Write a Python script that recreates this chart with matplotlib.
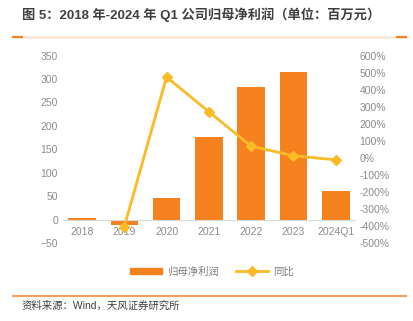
import matplotlib
matplotlib.use("Agg")
import matplotlib.pyplot as plt
from matplotlib.lines import Line2D

plt.rcParams['font.family'] = ['Liberation Sans', 'Noto Sans CJK SC']

years = ['2018', '2019', '2020', '2021', '2022', '2023', '2024Q1']
profit = [3, -11, 47, 177, 283, 315, 60]
yoy = [None, -405, 474, 270, 68, 12, -12]  # %

bar_color = '#F5821F'
line_color = '#FBBA26'
tick_color = '#8C8C8C'

fig = plt.figure(figsize=(4.14, 3.21), dpi=100)
ax = fig.add_axes([0.152, 0.243, 0.705, 0.584])
x = list(range(len(years)))
ax.bar(x, profit, width=0.65, color=bar_color, zorder=2)
ax.set_ylim(-50, 350)
ax.set_yticks(range(-50, 351, 50))
ax.set_xlim(-0.45, len(years) - 0.55)
ax.set_xticks(x)
ax.set_xticklabels(years)
for s in ['top', 'right', 'left']:
    ax.spines[s].set_visible(False)
ax.spines['bottom'].set_position(('data', 0))
ax.spines['bottom'].set_color('#D9D9D9')
ax.tick_params(axis='both', length=0, colors=tick_color, labelsize=7.5)
ax.tick_params(axis='x', pad=5)

ax2 = ax.twinx()
px = [i for i, v in zip(x, yoy) if v is not None]
py = [v / 100 for v in yoy if v is not None]
ax2.plot(px, py, color=line_color, lw=2, marker='D', ms=5, zorder=3)
ax2.set_ylim(-5, 6)
ax2.set_yticks(range(-5, 7))
ax2.set_yticklabels([f'{v * 100}%' for v in range(-5, 7)])
for s in ax2.spines.values():
    s.set_visible(False)
ax2.tick_params(axis='y', length=0, colors=tick_color, labelsize=7.5)

handles = [plt.Rectangle((0, 0), 1, 1, color=bar_color),
           Line2D([], [], color=line_color, lw=2, marker='D', ms=5)]
fig.legend(handles, ['归母净利润', '同比'], loc='center', bbox_to_anchor=(0.512, 0.155),
           ncol=2, frameon=False, fontsize=7.5, labelcolor='#7F7F7F',
           handlelength=3.0, handleheight=0.5, handletextpad=0.5, columnspacing=1.7)

fig.text(0.053, 0.955, '图 5：2018 年-2024 年 Q1 公司归母净利润（单位：百万元）',
         fontsize=9.5, fontweight='bold', color='#404040', va='center')
fig.add_artist(Line2D([0.032, 0.98], [0.885, 0.885], color='#FDE9DA', lw=2))
fig.add_artist(Line2D([0.032, 0.053], [0.885, 0.885], color=bar_color, lw=1.5))
fig.add_artist(Line2D([0.959, 0.98], [0.885, 0.885], color=bar_color, lw=1.5))
fig.add_artist(Line2D([0.032, 0.98], [0.078, 0.078], color='#F4A05A', lw=1.5))
fig.text(0.053, 0.047, '资料来源：Wind，天风证券研究所', fontsize=7.5, color='#404040', va='center')

fig.savefig('out.png', dpi=100)
